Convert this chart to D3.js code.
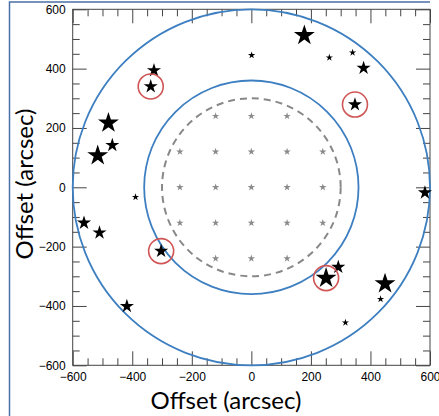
<!DOCTYPE html>
<html>
<head>
<meta charset="utf-8">
<script src="https://cdn.jsdelivr.net/npm/d3@7"></script>
<style>
  body { margin: 0; background: #fff; }
  svg { display: block; }
  .tick text { font-family: "Liberation Sans", Arial, sans-serif; font-size: 12px; fill: #000; }
  .tick line { stroke: #444; }
</style>
</head>
<body>
<svg width="439" height="416"></svg>
<script>
// field stars: offset x, offset y (arcsec), brightness level (1 small .. 3 big)
const starX = [-327, -338, -480, -467, -516, -389, 178, 1, 262, 340, 377, 348, 583, -562, -510, -303, -418, 292, 251, 449, 434, 316];
const starY = [394, 340, 217, 142, 107, -33, 512, 445, 437, 454, 402, 279, -18, -120, -153, -215, -401, -269, -306, -325, -377, -456];
const starLevel = [2, 2, 3, 2, 3, 1, 3, 1, 1, 1, 2, 2, 2, 2, 2, 2, 2, 2, 3, 3, 1, 1];

// circled stars (indices into the arrays above)
const circled = [1, 11, 15, 18];

// grid of grey stars, spacing 120 arcsec, inside 300 arcsec
const gridVals = [-240, -120, 0, 120, 240];
const gridLimit = 300;

// field circles
const outerR = 600, innerR = 360, dashedR = 300;

const majorTicks = [-600, -400, -200, 0, 200, 400, 600];
const minorTicks = [-550, -500, -450, -350, -300, -250, -150, -100, -50, 50, 100, 150, 250, 300, 350, 450, 500, 550];

const svg = d3.select("svg");

// slide frame
svg.append("path")
  .attr("d", "M9.5,416V2H430")
  .attr("fill", "none")
  .attr("stroke", "#4a6fa8")
  .attr("stroke-width", 1.5);

const x = d3.scaleLinear().domain([-600, 600]).range([72.7, 430]);
const y = d3.scaleLinear().domain([-600, 600]).range([365.3, 9.3]);
const rx = d => x(d) - x(0); // pixel radius along x
const ry = d => y(0) - y(d);

// box
svg.append("rect")
  .attr("x", x(-600)).attr("y", y(600))
  .attr("width", x(600) - x(-600)).attr("height", y(-600) - y(600))
  .attr("fill", "none").attr("stroke", "#444").attr("stroke-width", 1);

function addAxis(axisFn, transform, vals, size, labels) {
  const ax = axisFn.tickValues(vals).tickSize(-size).tickSizeOuter(0).tickPadding(labels ? 7 : 0);
  if (!labels) ax.tickFormat("");
  const g = svg.append("g").attr("transform", transform).call(ax);
  g.select(".domain").remove();
}

addAxis(d3.axisBottom(x), `translate(0,${y(-600)})`, majorTicks, 14, true);
addAxis(d3.axisBottom(x), `translate(0,${y(-600)})`, minorTicks, 7, false);
addAxis(d3.axisLeft(y), `translate(${x(-600)},0)`, majorTicks, 14, true);
addAxis(d3.axisLeft(y), `translate(${x(-600)},0)`, minorTicks, 7, false);
addAxis(d3.axisTop(x), `translate(0,${y(600)})`, majorTicks, 14, false);
addAxis(d3.axisTop(x), `translate(0,${y(600)})`, minorTicks, 7, false);
addAxis(d3.axisRight(y), `translate(${x(600)},0)`, majorTicks, 14, false);
addAxis(d3.axisRight(y), `translate(${x(600)},0)`, minorTicks, 7, false);

// circles
svg.append("ellipse")
  .attr("cx", x(0)).attr("cy", y(0)).attr("rx", rx(outerR)).attr("ry", ry(outerR))
  .attr("fill", "none").attr("stroke", "#3d7fc1").attr("stroke-width", 1.8);
svg.append("ellipse")
  .attr("cx", x(0)).attr("cy", y(0)).attr("rx", rx(innerR)).attr("ry", ry(innerR))
  .attr("fill", "none").attr("stroke", "#3d7fc1").attr("stroke-width", 1.8);
svg.append("ellipse")
  .attr("cx", x(0)).attr("cy", y(0)).attr("rx", rx(dashedR)).attr("ry", ry(dashedR))
  .attr("fill", "none").attr("stroke", "#888").attr("stroke-width", 2)
  .attr("stroke-dasharray", "7,5");

// grey grid stars
const grid = [];
gridVals.forEach(gy => gridVals.forEach(gx => {
  if (Math.hypot(gx, gy) <= gridLimit) grid.push([gx, gy]);
}));
const starPath = r => d3.symbol(d3.symbolStar, r * r / 0.8908130915292852)();
svg.selectAll(".gstar").data(grid).enter().append("path")
  .attr("class", "gstar")
  .attr("transform", d => `translate(${x(d[0])},${y(d[1])})`)
  .attr("d", starPath(3.9))
  .attr("fill", "#8a8a8a");

// field stars
const stars = starX.map((v, i) => ({ x: v, y: starY[i], level: starLevel[i] }));
const rScale = d3.scaleLinear().domain([1, 3]).range([3.8, 11]);
svg.selectAll(".fstar").data(stars).enter().append("path")
  .attr("class", "fstar")
  .attr("transform", d => `translate(${x(d.x)},${y(d.y)})`)
  .attr("d", d => starPath(rScale(d.level)))
  .attr("fill", "#000");

// red circles
svg.selectAll(".ring").data(circled.map(i => stars[i])).enter().append("circle")
  .attr("class", "ring")
  .attr("cx", d => x(d.x)).attr("cy", d => y(d.y)).attr("r", 12.5)
  .attr("fill", "none").attr("stroke", "#d05555").attr("stroke-width", 1.6);

// titles
svg.append("text")
  .attr("x", 226).attr("y", 409)
  .attr("text-anchor", "middle")
  .style("font-family", "Lato, 'Open Sans', sans-serif").style("font-size", "24px")
  .text("Offset (arcsec)");
svg.append("text")
  .attr("transform", "translate(33,184) rotate(-90)")
  .attr("text-anchor", "middle")
  .style("font-family", "Lato, 'Open Sans', sans-serif").style("font-size", "24px")
  .text("Offset (arcsec)");
</script>
</body>
</html>
